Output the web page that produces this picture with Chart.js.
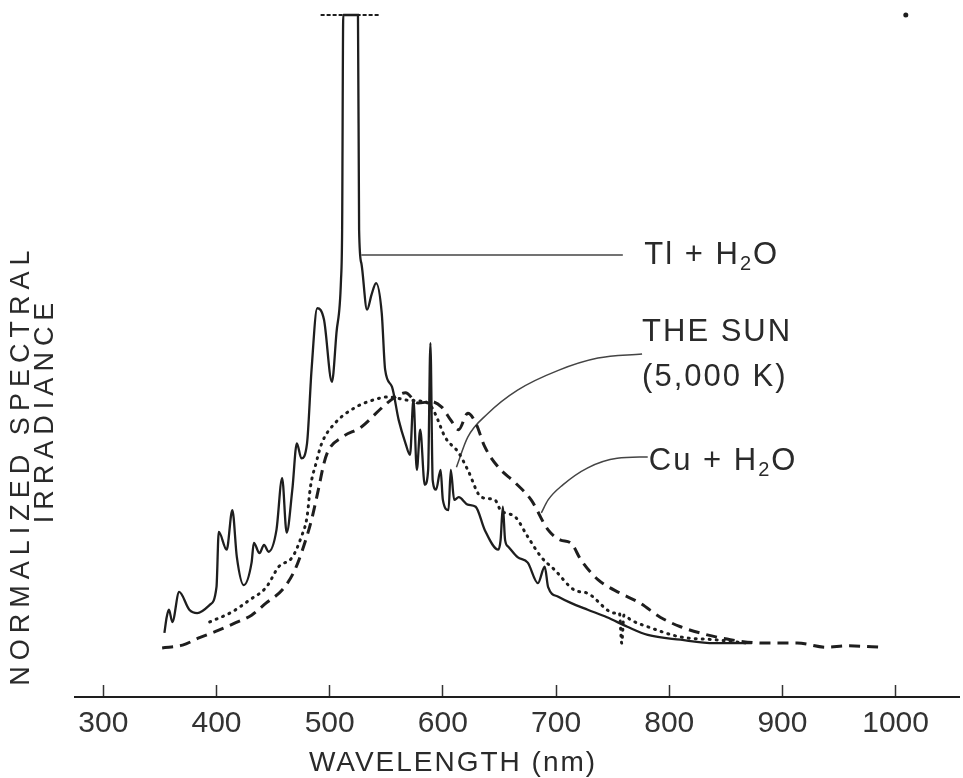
<!DOCTYPE html>
<html>
<head>
<meta charset="utf-8">
<title>Normalized spectral irradiance</title>
<script src="https://cdn.jsdelivr.net/npm/chart.js@4.4.1/dist/chart.umd.min.js"></script>
<style>
  html, body { margin: 0; padding: 0; background: #fff; }
  #wrap { width: 963px; height: 778px; position: relative; }
</style>
</head>
<body>
<div id="wrap"><canvas id="spectrum"></canvas></div>
<script>
// x axis ticks (nm)
const tickValues = [300, 400, 500, 600, 700, 800, 900, 1000];

// Tl + H2O lamp (solid)
const tlWavelength = [354, 356, 358, 361, 367, 376, 383, 394, 400, 402,
  409, 414, 418, 424, 431, 433, 438, 442, 446, 453,
  458, 462, 467, 471, 475, 480, 484, 489, 495, 502,
  506, 510, 511, 512, 525, 526, 528, 533, 537, 541,
  546, 549, 555, 561, 567, 571, 574, 577, 580, 584,
  587, 589, 591, 594, 598, 600, 605, 607, 610, 614,
  622, 629, 637, 649, 651, 653, 655, 658, 666, 675,
  684, 690, 693, 702, 713, 728, 745, 763, 781, 810,
  840, 873];
const tlIrradiance = [9.4, 11.7, 12.8, 11.0, 15.4, 12.8, 12.3, 13.5, 16.1, 24.2,
  21.6, 27.4, 20.5, 16.4, 19.7, 22.6, 21.1, 22.3, 21.3, 24.5,
  32.1, 24.1, 30.4, 37.2, 35.0, 37.2, 48.0, 57.0, 55.3, 46.2,
  53.4, 61.1, 68.5, 100, 100, 68.5, 63.6, 56.8, 59.0, 60.7,
  56.3, 48.0, 45.5, 40.6, 37.2, 35.5, 43.6, 33.3, 39.2, 31.1,
  33.3, 51.9, 31.8, 30.4, 33.3, 28.9, 27.4, 33.3, 28.9, 29.3,
  28.2, 27.9, 24.5, 21.6, 23.0, 27.9, 23.0, 22.0, 20.5, 19.7,
  16.7, 19.1, 16.1, 14.7, 13.8, 12.8, 11.7, 10.3, 9.1, 8.4,
  7.9, 7.9];

// the sun, 5,000 K (dotted)
const sunWavelength = [394, 414, 429, 444, 455, 467, 475, 480, 483, 488,
  493, 505, 523, 534, 552, 570, 587, 593, 602, 614,
  622, 634, 646, 651, 664, 675, 687, 699, 716, 728,
  752, 756, 758, 760, 766, 781, 810, 840, 869];
const sunIrradiance = [11.0, 12.5, 14.2, 16.1, 19.1, 20.5, 23.5, 26.4, 30.8, 34.3,
  37.2, 40.2, 42.5, 43.3, 44.0, 43.5, 43.1, 41.6, 38.1, 35.8,
  33.3, 29.3, 28.9, 27.4, 26.4, 23.5, 20.5, 18.6, 15.7, 15.2,
  12.3, 12.3, 7.9, 12.0, 11.3, 10.3, 8.8, 8.4, 7.9];

// Cu + H2O lamp (dashed)
const cuWavelength = [352, 370, 385, 402, 417, 431, 444, 458, 468, 475,
  484, 490, 495, 499, 511, 528, 546, 558, 567, 578,
  590, 599, 607, 614, 622, 629, 637, 649, 664, 678,
  693, 704, 713, 722, 737, 757, 774, 792, 810, 827,
  854, 884, 913, 939, 957, 990];
const cuIrradiance = [7.2, 7.6, 8.7, 9.8, 10.9, 12.0, 13.8, 15.7, 18.2, 21.1,
  26.0, 30.4, 34.3, 36.2, 38.1, 39.6, 42.4, 44.0, 44.6, 43.1,
  43.3, 42.5, 40.6, 39.2, 41.6, 40.2, 36.7, 33.7, 31.4, 28.9,
  24.5, 23.0, 22.6, 20.1, 17.2, 15.2, 13.8, 11.7, 10.3, 9.4,
  8.4, 7.9, 7.9, 7.3, 7.5, 7.3];

// off-scale marker over the Tl peak
const capWavelength = [492, 545];
const capIrradiance = [100, 100];

// leader lines to the labels
const tlLeaderWavelength = [528, 759];
const tlLeaderLevel = [64.8, 64.8];
const sunLeaderWavelength = [612, 622, 640, 666, 702, 737, 776];
const sunLeaderLevel = [33.7, 38.1, 41.6, 45.0, 47.9, 49.7, 50.3];
const cuLeaderWavelength = [687, 693, 706, 728, 754, 781];
const cuLeaderLevel = [27.0, 28.9, 31.1, 33.6, 35.0, 35.2];

// stray dot top right
const dotWavelength = [1009];
const dotLevel = [100];

const xTitle = 'WAVELENGTH (nm)';
const yTitle = ['NORMALIZED SPECTRAL', 'IRRADIANCE'];

const notes = [
  { x: 778, y: 64.8, parts: [['Tl + H'], ['2', 'sub'], ['O']] },
  { x: 776, y: 53.4, parts: [['THE SUN']] },
  { x: 776, y: 46.9, parts: [['(5,000 K)']] },
  { x: 782, y: 34.5, parts: [['Cu + H'], ['2', 'sub'], ['O']] }
];

const pts = (xs, ys) => xs.map((v, i) => ({ x: v, y: ys[i] }));
const INK = '#1e1e1e';
const FONT = "'Liberation Sans Narrow', 'Liberation Sans', sans-serif";

const textPlugin = {
  id: 'textPlugin',
  afterDraw(chart) {
    const { ctx, chartArea } = chart;
    const x = chart.scales.x, y = chart.scales.y;
    ctx.save();
    ctx.fillStyle = '#2a2a2a';
    ctx.textBaseline = 'middle';
    ctx.textAlign = 'left';
    ctx.letterSpacing = '2px';
    notes.forEach(n => {
      let px = x.getPixelForValue(n.x);
      const py = y.getPixelForValue(n.y);
      n.parts.forEach(([t, kind]) => {
        ctx.font = kind === 'sub' ? '20px ' + FONT : '31px ' + FONT;
        ctx.fillText(t, px, kind === 'sub' ? py + 9 : py);
        px += ctx.measureText(t).width;
      });
    });
    // x axis title
    ctx.font = '28px ' + FONT;
    ctx.letterSpacing = '2px';
    ctx.textAlign = 'center';
    ctx.fillText(xTitle, x.getPixelForValue(609), chartArea.bottom + 66);
    // y axis title, two lines
    ctx.font = "27px 'Liberation Sans', sans-serif";
    ctx.letterSpacing = '6px';
    [[chartArea.left - 53, 34.0], [chartArea.left - 29, 42.1]].forEach(([tx, lv], i) => {
      ctx.save();
      ctx.translate(tx, y.getPixelForValue(lv));
      ctx.rotate(-Math.PI / 2);
      ctx.fillText(yTitle[i], 0, 0);
      ctx.restore();
    });
    ctx.restore();
  }
};

new Chart(document.getElementById('spectrum'), {
  type: 'line',
  data: {
    datasets: [
      { label: 'Tl + H2O', data: pts(tlWavelength, tlIrradiance), borderColor: INK, borderWidth: 2.3, cubicInterpolationMode: 'monotone', clip: false },
      { label: 'The sun (5,000 K)', data: pts(sunWavelength, sunIrradiance), borderColor: INK, borderWidth: 3, borderDash: [1, 6], borderCapStyle: 'round', cubicInterpolationMode: 'monotone' },
      { label: 'Cu + H2O', data: pts(cuWavelength, cuIrradiance), borderColor: INK, borderWidth: 3, borderDash: [11, 7], cubicInterpolationMode: 'monotone' },
      { label: 'cap', data: pts(capWavelength, capIrradiance), borderColor: INK, borderWidth: 2, borderDash: [4, 2], clip: false },
      { label: 'Tl leader', data: pts(tlLeaderWavelength, tlLeaderLevel), borderColor: '#444', borderWidth: 1.5 },
      { label: 'Sun leader', data: pts(sunLeaderWavelength, sunLeaderLevel), borderColor: '#444', borderWidth: 1.5, cubicInterpolationMode: 'monotone' },
      { label: 'Cu leader', data: pts(cuLeaderWavelength, cuLeaderLevel), borderColor: '#444', borderWidth: 1.5, cubicInterpolationMode: 'monotone' },
      { label: 'dot', data: pts(dotWavelength, dotLevel), showLine: false, pointRadius: 2.5, pointBackgroundColor: INK, pointBorderWidth: 0, clip: false }
    ]
  },
  options: {
    responsive: true,
    maintainAspectRatio: false,
    animation: false,
    layout: { padding: { left: 75, top: 15, right: 0, bottom: 15 } },
    plugins: { legend: { display: false }, tooltip: { enabled: false } },
    elements: { point: { radius: 0 } },
    scales: {
      x: {
        type: 'linear',
        min: 275,
        max: 1056,
        afterBuildTicks: s => { s.ticks = tickValues.map(v => ({ value: v })); },
        grid: { drawOnChartArea: false, drawTicks: true, tickLength: -12, tickWidth: 1.5, tickColor: '#333' },
        border: { color: INK, width: 2 },
        ticks: { padding: 21, color: '#333', autoSkip: false, maxRotation: 0, font: { family: FONT, size: 30 }, callback: v => String(v) }
      },
      y: { display: false, min: 0, max: 100 }
    }
  },
  plugins: [textPlugin]
});
</script>
</body>
</html>
